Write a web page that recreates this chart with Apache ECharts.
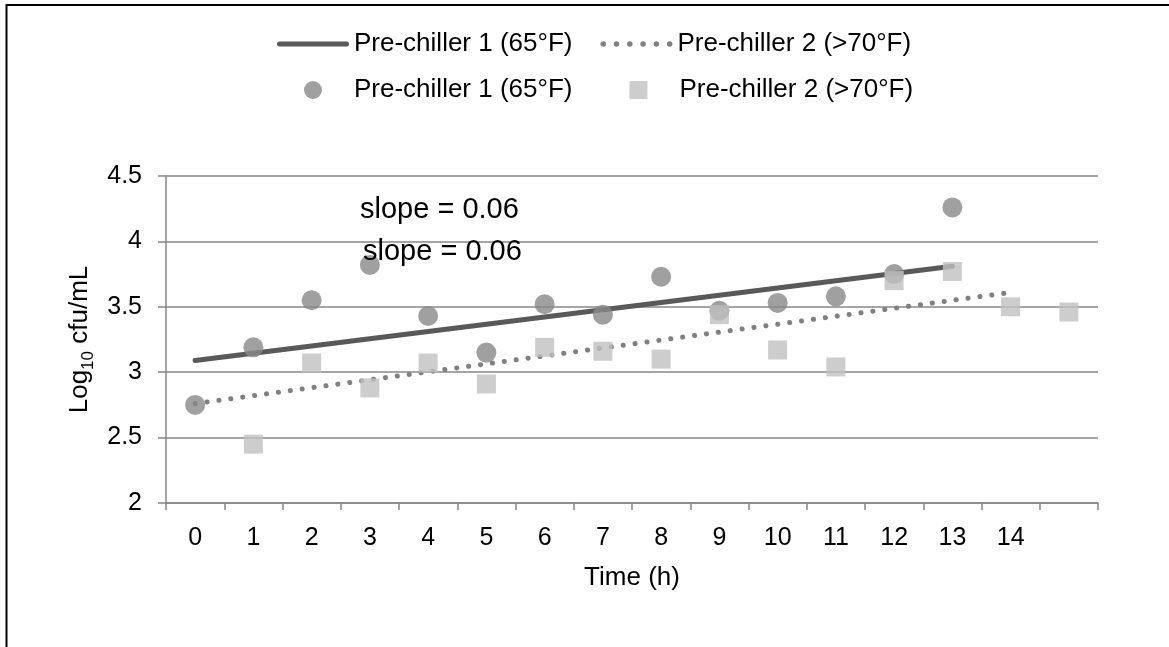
<!DOCTYPE html>
<html>
<head>
<meta charset="utf-8">
<script src="https://cdn.jsdelivr.net/npm/echarts@6/dist/echarts.min.js"></script>
<style>
  html, body { margin: 0; padding: 0; background: #fff; }
  #chart { width: 1169px; height: 647px; }
</style>
</head>
<body>
<div id="chart"></div>
<script>
// Hours on the x axis (last slot holds the final sample, unlabelled)
const timeLabels = ['0', '1', '2', '3', '4', '5', '6', '7', '8', '9', '10', '11', '12', '13', '14', ''];

// Log10 cfu/mL counts per pre-chiller
const chiller1Counts = [2.75, 3.19, 3.55, 3.82, 3.43, 3.15, 3.52, 3.44, 3.73, 3.47, 3.53, 3.58, 3.75, 4.26];
const chiller2Counts = [null, 2.45, 3.07, 2.88, 3.07, 2.91, 3.19, 3.16, 3.10, 3.44, 3.17, 3.04, 3.70, 3.77, 3.50, 3.46];

// Linear trend lines: hour index at each end and fitted value there
const trend1Hours = [0, 13];
const trend1Values = [3.09, 3.81];
const trend2Hours = [0, 14];
const trend2Values = [2.76, 3.61];

const seriesNames = ['Pre-chiller 1 (65°F)', 'Pre-chiller 2 (>70°F)'];
const trendSuffix = ' trend';

const FONT = '"Liberation Sans", Arial, sans-serif';
const GRID_GRAY = '#878787';
const COLORS = { trend1: '#595959', trend2: '#808080', dots1: '#888888', dots2: '#c0c0c0' };

// Legend glyphs: thick bar, row of round dots, disc, square
function dotRowPath(count, r, step) {
  let d = '';
  for (let i = 0; i < count; i++) {
    const cx = r + i * step;
    d += 'M' + (cx - r) + ',' + r + 'a' + r + ',' + r + ' 0 1,0 ' + (2 * r) + ',0a' + r + ',' + r + ' 0 1,0 ' + (-2 * r) + ',0z';
  }
  return 'path://' + d;
}
const ICON_BAR = 'path://M2.5,0h67a2.5,2.5 0 0,1 0,5h-67a2.5,2.5 0 0,1 0,-5z';
const ICON_DOTS = dotRowPath(6, 2.6, 12.4);
const ICON_DISC = 'path://M0,9a9,9 0 1,0 18,0a9,9 0 1,0 -18,0z';
const ICON_SQUARE = 'path://M0,0h18v18h-18z';

function slopeOf(hours, values) {
  return (values[1] - values[0]) / (hours[1] - hours[0]);
}
function slopeText(hours, values) {
  return 'slope = ' + slopeOf(hours, values).toFixed(2);
}

const chart = echarts.init(document.getElementById('chart'), null, { renderer: 'canvas' });

const legendText = { fontSize: 26, fontFamily: FONT, color: '#000' };

const option = {
  animation: false,
  backgroundColor: '#ffffff',
  textStyle: { fontFamily: FONT, color: '#000' },
  grid: { left: 166, right: 71, top: 176, bottom: 144, containLabel: false },
  legend: [
    {
      data: [
        { name: seriesNames[0] + trendSuffix, icon: ICON_BAR },
        { name: seriesNames[1] + trendSuffix, icon: ICON_DOTS }
      ],
      formatter: name => name.replace(trendSuffix, ''),
      left: 272, top: 26, padding: 5,
      itemWidth: 72, itemHeight: 14, itemGap: 28,
      textStyle: legendText,
      selectedMode: false
    },
    {
      data: [
        { name: seriesNames[0], icon: ICON_DISC },
        { name: seriesNames[1], icon: ICON_SQUARE }
      ],
      // markers sit under the middle of the line samples above
      left: 299, top: 72, padding: 5,
      itemWidth: 72, itemHeight: 18, itemGap: 57,
      textStyle: legendText,
      selectedMode: false
    }
  ],
  xAxis: {
    type: 'category',
    data: timeLabels,
    boundaryGap: true,
    name: 'Time (h)',
    nameLocation: 'middle',
    nameGap: 62,
    nameTextStyle: { fontSize: 26, fontFamily: FONT, color: '#000' },
    axisLine: { lineStyle: { color: GRID_GRAY, width: 1.5 } },
    axisTick: { show: true, length: 7, alignWithLabel: false, lineStyle: { color: GRID_GRAY, width: 1.5 } },
    axisLabel: { interval: 0, fontSize: 25, fontFamily: FONT, color: '#000', margin: 23 },
    splitLine: { show: false }
  },
  yAxis: {
    type: 'value',
    min: 2, max: 4.5, interval: 0.5,
    name: '{main|Log}{sub|10}{main| cfu/mL}',
    nameLocation: 'middle',
    nameRotate: 90,
    nameGap: 60,
    nameTextStyle: {
      fontFamily: FONT, color: '#000',
      rich: {
        main: { fontSize: 26, fontFamily: FONT, color: '#000', lineHeight: 34, verticalAlign: 'middle' },
        sub: { fontSize: 17, fontFamily: FONT, color: '#000', lineHeight: 17, verticalAlign: 'bottom' }
      }
    },
    axisLine: { show: true, lineStyle: { color: GRID_GRAY, width: 1.5 } },
    axisTick: { show: true, length: 8, lineStyle: { color: GRID_GRAY, width: 1.5 } },
    axisLabel: { fontSize: 25, fontFamily: FONT, color: '#000', margin: 24 },
    splitLine: { show: true, lineStyle: { color: GRID_GRAY, width: 1.5 } }
  },
  series: [
    {
      name: seriesNames[0] + trendSuffix,
      type: 'line',
      data: trend1Hours.map((h, i) => [h, trend1Values[i]]),
      symbol: 'none',
      lineStyle: { color: COLORS.trend1, width: 5, cap: 'round' },
      itemStyle: { color: COLORS.trend1 },
      z: 2
    },
    {
      name: seriesNames[1] + trendSuffix,
      type: 'line',
      data: trend2Hours.map((h, i) => [h, trend2Values[i]]),
      symbol: 'none',
      lineStyle: { color: COLORS.trend2, width: 5, type: [0.1, 11.9], cap: 'round' },
      itemStyle: { color: COLORS.trend2 },
      z: 2
    },
    {
      name: seriesNames[0],
      type: 'scatter',
      data: chiller1Counts,
      symbol: 'circle',
      symbolSize: 20,
      itemStyle: { color: COLORS.dots1 },
      z: 3
    },
    {
      name: seriesNames[1],
      type: 'scatter',
      data: chiller2Counts,
      symbol: 'rect',
      symbolSize: 19,
      itemStyle: { color: COLORS.dots2 },
      z: 4
    }
  ],
  graphic: [
    {
      type: 'polyline',
      shape: { points: [[6.5, 647], [6.5, 5], [1169, 5]] },
      style: { stroke: '#000', lineWidth: 2, fill: null },
      silent: true
    },
    {
      type: 'text',
      x: 360, y: 210,
      style: {
        text: slopeText(trend1Hours, trend1Values),
        fontSize: 29, fontFamily: FONT, fill: '#000',
        verticalAlign: 'middle', align: 'left'
      },
      z: 10
    },
    {
      type: 'text',
      x: 363, y: 252,
      style: {
        text: slopeText(trend2Hours, trend2Values),
        fontSize: 29, fontFamily: FONT, fill: '#000',
        verticalAlign: 'middle', align: 'left'
      },
      z: 10
    }
  ]
};

chart.setOption(option);
</script>
</body>
</html>
